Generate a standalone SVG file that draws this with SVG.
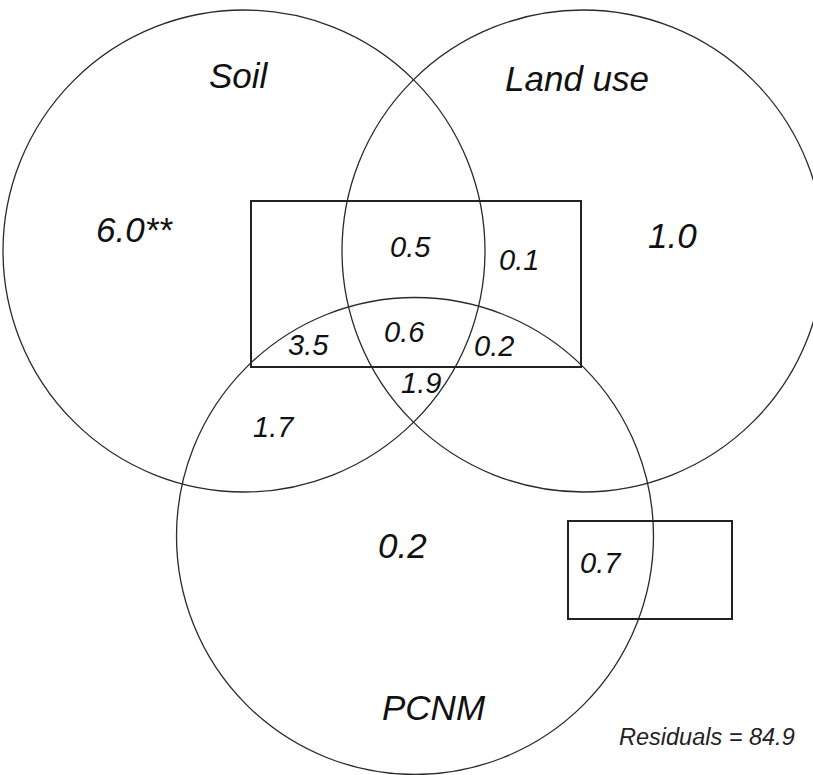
<svg xmlns="http://www.w3.org/2000/svg" width="813" height="775" viewBox="0 0 813 775">
<style>
.circ{fill:none;stroke:#2a2a2a;stroke-width:1.3}
.box{fill:none;stroke:#222;stroke-width:2}
text{font-family:"Liberation Sans",Arial,sans-serif;font-style:italic;fill:#111}
.big{font-size:35px}
.small{font-size:29px}
.res{font-size:23.5px;fill:#222}
</style>
<rect width="813" height="775" fill="#fff"/>
<g id="soil">
<circle class="circ" cx="244" cy="251" r="241"/>
<text class="big" x="209" y="88">Soil</text>
<text class="big" x="96" y="242">6.0**</text>
</g>
<g id="landuse">
<circle class="circ" cx="583" cy="251" r="241"/>
<text class="big" x="505" y="91">Land use</text>
<text class="big" x="648" y="248">1.0</text>
</g>
<g id="pcnm">
<circle class="circ" cx="415" cy="536" r="238.5"/>
<text class="big" x="378" y="558">0.2</text>
<text class="big" x="382" y="720">PCNM</text>
</g>
<g id="box-main">
<rect class="box" x="251" y="201" width="330" height="166"/>
</g>
<g id="box-small">
<rect class="box" x="568" y="521" width="164" height="98"/>
</g>
<g id="fractions">
<text class="small" x="390" y="257">0.5</text>
<text class="small" x="499" y="270">0.1</text>
<text class="small" x="384" y="342">0.6</text>
<text class="small" x="288" y="355">3.5</text>
<text class="small" x="474" y="356">0.2</text>
<text class="small" x="401" y="393">1.9</text>
<text class="small" x="253" y="437">1.7</text>
<text class="small" x="580" y="573">0.7</text>
</g>
<g id="residuals">
<text class="res" x="619" y="745">Residuals = 84.9</text>
</g>
</svg>
